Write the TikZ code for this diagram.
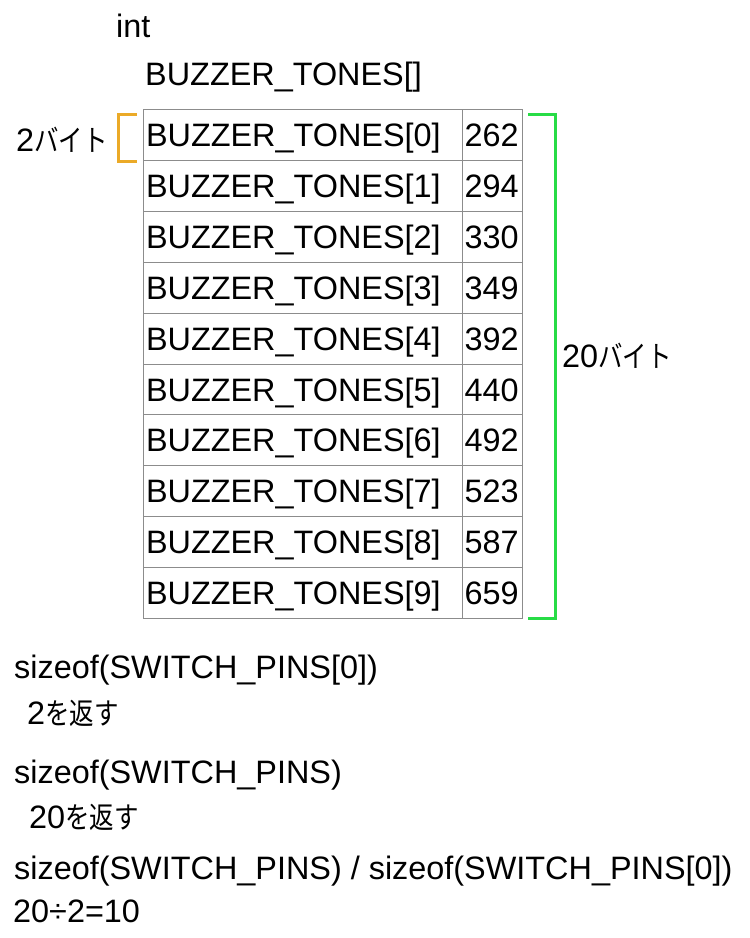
\documentclass[tikz,border=0pt]{standalone}
\usepackage{fontspec}
\setmainfont{Liberation Sans}
\newfontfamily\jp[Scale=0.92,FakeStretch=0.82]{Noto Sans CJK JP}
\usetikzlibrary{positioning}
\definecolor{bracketorange}{RGB}{235,170,40}
\definecolor{bracketgreen}{RGB}{40,220,70}

\begin{document}
\begin{tikzpicture}[x=1pt, y=-1pt,
    every node/.style={font=\fontsize{32.4}{38}\selectfont, inner sep=0pt},
    txt/.style={anchor=base west},
    namecell/.style={draw=black!45, line width=1pt, anchor=north west,
      minimum width=319pt, minimum height=50.9pt, text width=314pt,
      align=left, text height=23.2pt, text depth=0pt, inner xsep=2.5pt},
    valuecell/.style={namecell, minimum width=60pt, text width=56pt, inner xsep=2pt},
    bracket/.style={line width=3pt}
    ]
\useasboundingbox (0,0) rectangle (750,938);
\node[txt] (type)      at (116,37) {int};
\node[txt] (arrayname) at (145,85) {BUZZER\_TONES[]};
% table of elements
\foreach \v [count=\i from 0] in {262,294,330,349,392,440,492,523,587,659}{
  \node[namecell]  (name\i)  at (143,109+50.9*\i) {BUZZER\_TONES[\i]};
  \node[valuecell] (value\i) at (462,109+50.9*\i) {\v};
}
\node[txt] (elemsize)  at (16,151)  {2{\jp バイト}};
\node[txt] (totalsize) at (562,367) {20{\jp バイト}};
\draw[bracket, bracketorange] (137,114.5) -- (118,114.5) -- (118,161.5) -- (137,161.5);
\draw[bracket, bracketgreen]  (528,114) -- (555,114) -- (555,618.5) -- (528,618.5);
% sizeof notes
\node[txt] (sizeelem)  at (14,678) {sizeof(SWITCH\_PINS[0])};
\node[txt] (retelem)   at (27,724) {2{\jp を返す}};
\node[txt] (sizeall)   at (14,783) {sizeof(SWITCH\_PINS)};
\node[txt] (retall)    at (29,828) {20{\jp を返す}};
\node[txt] (count)     at (14,879) {sizeof(SWITCH\_PINS) / sizeof(SWITCH\_PINS[0])};
\node[txt] (result)    at (13,922) {20÷2=10};
\end{tikzpicture}
\end{document}
